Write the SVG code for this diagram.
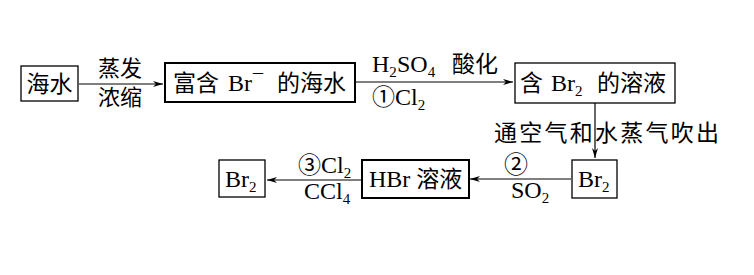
<svg xmlns="http://www.w3.org/2000/svg" width="754" height="275" viewBox="0 0 754 275">
<defs>
<style>
.box{fill:#fff;stroke:#000;stroke-width:1.3}
.bold{stroke-width:2}
.ln{stroke:#000;stroke-width:1.2;fill:none}
.t{font-family:"Liberation Serif","Noto Sans CJK SC",serif;font-size:24px;fill:#000}
.c{font-family:"Noto Sans CJK SC",sans-serif;font-size:23px;fill:#000}
.s{font-size:15px}
</style>
<marker id="ah" viewBox="0 0 10 6" refX="10" refY="3" markerWidth="10" markerHeight="6" markerUnits="userSpaceOnUse" orient="auto">
<path d="M0,0 L10,3 L0,6 L3,3 Z" fill="#000"/>
</marker>
</defs>
<rect width="754" height="275" fill="#fff"/>
<g id="connectors">
<line class="ln" x1="79" y1="84" x2="163" y2="84" marker-end="url(#ah)"/>
<line class="ln" x1="356" y1="82" x2="513" y2="82" marker-end="url(#ah)"/>
<line class="ln" x1="595" y1="103" x2="595" y2="158" marker-end="url(#ah)"/>
<line class="ln" x1="571" y1="179" x2="470" y2="179" marker-end="url(#ah)"/>
<line class="ln" x1="361" y1="180" x2="267" y2="180" marker-end="url(#ah)"/>
<text class="c" x="98" y="76" style="font-size:22px">蒸发</text>
<text class="c" x="98" y="105" style="font-size:22px">浓缩</text>
<text class="t" x="372" y="72">H<tspan class="s" dy="5">2</tspan><tspan dy="-5" x="397">SO</tspan><tspan class="s" dy="5">4</tspan><tspan dy="-5" class="c" x="452">酸化</tspan></text>
<text class="t" x="372" y="105"><tspan class="c">①</tspan>Cl<tspan class="s" dy="5">2</tspan></text>
<text class="c" x="494" y="141" textLength="225">通空气和水蒸气吹出</text>
<text class="c" x="504" y="173" style="font-size:24px">②</text>
<text class="t" x="511" y="198">SO<tspan class="s" dy="5">2</tspan></text>
<text class="t" x="298" y="173"><tspan class="c">③</tspan>Cl<tspan class="s" dy="5">2</tspan></text>
<text class="t" x="304" y="199">CCl<tspan class="s" dy="5">4</tspan></text>
</g>
<g id="n1">
<rect class="box" x="21" y="66" width="57" height="35"/>
<text class="c" x="26.5" y="92">海水</text>
</g>
<g id="n2">
<rect class="box bold" x="165" y="63" width="190" height="39"/>
<text class="c" x="173" y="91">富含</text>
<text class="t" x="228" y="91">Br<tspan dx="1" dy="-2" style="font-size:20px">¯</tspan></text>
<text class="c" x="277" y="91">的海水</text>
</g>
<g id="n3">
<rect class="box" x="515" y="63" width="160" height="40"/>
<text class="c" x="520" y="91">含</text>
<text class="t" x="551" y="91">Br<tspan class="s" dy="5">2</tspan></text>
<text class="c" x="597" y="91">的溶液</text>
</g>
<g id="n4">
<rect class="box" x="572" y="160" width="45" height="38"/>
<text class="t" x="578" y="187">Br<tspan class="s" dy="5">2</tspan></text>
</g>
<g id="n5">
<rect class="box bold" x="362" y="160" width="107" height="38"/>
<text class="t" x="369" y="187">HBr <tspan class="c">溶液</tspan></text>
</g>
<g id="n6">
<rect class="box" x="219" y="160" width="46" height="37"/>
<text class="t" x="225" y="187">Br<tspan class="s" dy="5">2</tspan></text>
</g>
</svg>
